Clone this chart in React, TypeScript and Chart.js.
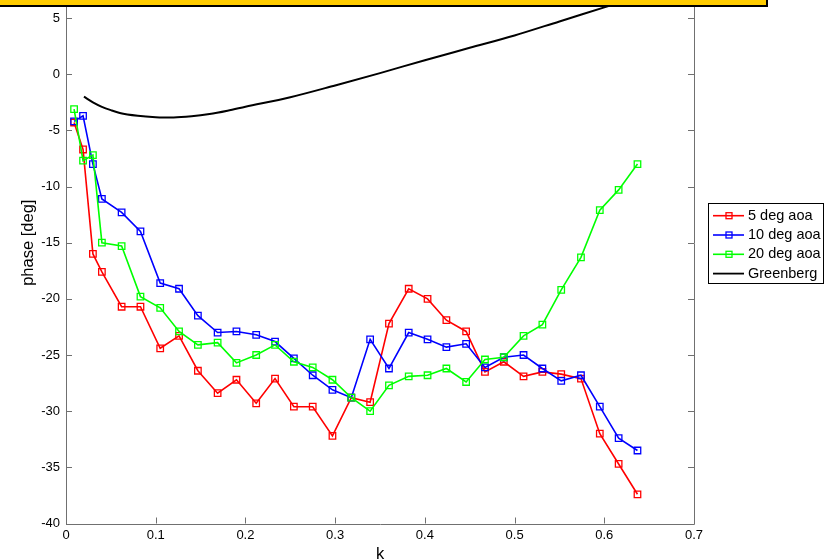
import React, { useEffect, useRef } from "react";
import { Chart, registerables } from "chart.js";

Chart.register(...registerables);

// reduced frequency k for the measured series
const kValues = [
  0.009, 0.019, 0.030, 0.040, 0.062, 0.083, 0.105, 0.126, 0.147, 0.169, 0.190,
  0.212, 0.233, 0.254, 0.275, 0.297, 0.318, 0.339, 0.360, 0.382, 0.403, 0.424,
  0.446, 0.467, 0.488, 0.510, 0.531, 0.552, 0.574, 0.595, 0.616, 0.637,
];

const aoa5 = [
  -4.3, -6.7, -16.0, -17.6, -20.7, -20.7, -24.4, -23.3, -26.4, -28.4, -27.2,
  -29.3, -27.1, -29.6, -29.6, -32.2, -28.8, -29.2, -22.2, -19.1, -20.0, -21.9,
  -22.9, -26.5, -25.6, -26.9, -26.5, -26.7, -27.1, -32.0, -34.7, -37.4,
];

const aoa10 = [
  -4.2, -3.7, -8.0, -11.1, -12.3, -14.0, -18.6, -19.1, -21.5, -23.0, -22.9,
  -23.2, -23.8, -25.3, -26.8, -28.1, -28.8, -23.6, -26.2, -23.0, -23.6, -24.3,
  -24.0, -26.1, -25.2, -25.0, -26.2, -27.3, -26.8, -29.6, -32.4, -33.5,
];

const aoa20 = [
  -3.1, -7.7, -7.2, -15.0, -15.3, -19.8, -20.8, -22.9, -24.1, -23.9, -25.7,
  -25.0, -24.1, -25.6, -26.1, -27.2, -28.8, -30.0, -27.7, -26.9, -26.8, -26.2,
  -27.4, -25.4, -25.2, -23.3, -22.3, -19.2, -16.3, -12.1, -10.3, -8.0,
];

const greenbergK = [
  0.02, 0.03, 0.04, 0.05, 0.06, 0.08, 0.10, 0.12, 0.14, 0.16, 0.18, 0.20, 0.25,
  0.30, 0.35, 0.40, 0.45, 0.50, 0.55, 0.60, 0.65, 0.70,
];
const greenbergPhase = [
  -2.0, -2.5, -2.9, -3.2, -3.45, -3.7, -3.82, -3.85, -3.75, -3.55, -3.25, -2.9,
  -2.05, -1.0, 0.1, 1.25, 2.35, 3.45, 4.7, 5.95, 7.2, 8.4,
];

const legendLabels = ["5 deg aoa", "10 deg aoa", "20 deg aoa", "Greenberg"];
const seriesColors = ["#ff0000", "#0000ff", "#00ff00", "#000000"];
const xLabel = "k";
const yLabel = "phase [deg]";

const CANVAS_W = 826;
const CANVAS_H = 620;
const OFFSET_Y = 44; // canvas is shifted up by this amount
const FONT = "'Liberation Sans', Arial, Helvetica, sans-serif";
const AXIS_COLOR = "#707070";

const matlabAxes = {
  id: "matlabAxes",
  afterDatasetsDraw(chart: any) {
    const { ctx, chartArea, scales } = chart;
    const { left, right, top, bottom } = chartArea;
    const tl = 6;
    ctx.save();
    ctx.strokeStyle = AXIS_COLOR;
    ctx.lineWidth = 1;
    ctx.beginPath();
    ctx.rect(Math.round(left) + 0.5, Math.round(top) + 0.5, Math.round(right - left), Math.round(bottom - top));
    ctx.stroke();
    ctx.beginPath();
    scales.x.ticks.forEach((t: any) => {
      const px = Math.round(scales.x.getPixelForValue(t.value)) + 0.5;
      ctx.moveTo(px, bottom);
      ctx.lineTo(px, bottom - tl);
      ctx.moveTo(px, top);
      ctx.lineTo(px, top + tl);
    });
    scales.y.ticks.forEach((t: any) => {
      const py = Math.round(scales.y.getPixelForValue(t.value)) + 0.5;
      ctx.moveTo(left, py);
      ctx.lineTo(left + tl, py);
      ctx.moveTo(right, py);
      ctx.lineTo(right - tl, py);
    });
    ctx.stroke();
    ctx.restore();
  },
  afterDraw(chart: any) {
    const { ctx } = chart;
    const bx = 708.5;
    const by = 203.5 + OFFSET_Y;
    const bw = 115;
    const bh = 80;
    ctx.save();
    ctx.fillStyle = "#ffffff";
    ctx.fillRect(bx, by, bw, bh);
    ctx.strokeStyle = "#000000";
    ctx.lineWidth = 1;
    ctx.strokeRect(bx, by, bw, bh);
    const rowYs = [215.7, 235, 254.3, 273.6];
    ctx.font = `14.5px ${FONT}`;
    ctx.textBaseline = "middle";
    ctx.textAlign = "left";
    legendLabels.forEach((label, i) => {
      const y = rowYs[i] + OFFSET_Y;
      ctx.strokeStyle = seriesColors[i];
      ctx.lineWidth = i === 3 ? 1.8 : 1.6;
      ctx.beginPath();
      ctx.moveTo(713, y);
      ctx.lineTo(744, y);
      ctx.stroke();
      if (i < 3) {
        ctx.lineWidth = 1.3;
        ctx.strokeRect(729 - 3, y - 3, 6, 6);
      }
      ctx.fillStyle = "#000000";
      ctx.fillText(label, 748, y);
    });
    ctx.restore();
  },
};

export default function App() {
  const ref = useRef<HTMLCanvasElement | null>(null);

  useEffect(() => {
    if (!ref.current) return;
    Chart.defaults.font.family = FONT;
    const mkSeries = (vals: number[]) => kValues.map((k, i) => ({ x: k, y: vals[i] }));
    const markerSeries = (label: string, vals: number[], color: string, order: number) => ({
      label,
      data: mkSeries(vals),
      borderColor: color,
      backgroundColor: color,
      borderWidth: 1.6,
      pointStyle: "rect",
      pointRadius: 4.6,
      pointBorderWidth: 1.3,
      pointBorderColor: color,
      pointBackgroundColor: "rgba(0,0,0,0)",
      tension: 0,
      order,
    });
    const chart = new Chart(ref.current, {
      type: "line",
      data: {
        datasets: [
          markerSeries(legendLabels[0], aoa5, seriesColors[0], 2),
          markerSeries(legendLabels[1], aoa10, seriesColors[1], 1),
          markerSeries(legendLabels[2], aoa20, seriesColors[2], 0),
          {
            label: legendLabels[3],
            data: greenbergK.map((k, i) => ({ x: k, y: greenbergPhase[i] })),
            borderColor: seriesColors[3],
            backgroundColor: seriesColors[3],
            borderWidth: 2,
            pointRadius: 0,
            cubicInterpolationMode: "monotone",
            order: 3,
          } as any,
        ],
      },
      options: {
        responsive: false,
        animation: false,
        devicePixelRatio: 1,
        layout: { padding: { top: 2, right: 132, left: 0, bottom: 0 } },
        plugins: {
          legend: { display: false },
          tooltip: { enabled: false },
        },
        scales: {
          x: {
            type: "linear",
            position: "bottom",
            min: 0,
            max: 0.7,
            grid: { display: false, drawTicks: false },
            border: { display: false },
            ticks: {
              stepSize: 0.1,
              padding: 4,
              color: "#000",
              font: { size: 13 },
              maxRotation: 0,
              autoSkip: false,
              callback: (v: any) => String(Number(Number(v).toFixed(1))),
            },
            title: {
              display: true,
              text: xLabel,
              color: "#000",
              font: { size: 16.5 },
              padding: { top: 0, bottom: 11.8 },
            },
            afterFit: (s: any) => {
              s.height = 52.5;
              s.paddingLeft = 0;
              s.paddingRight = 0;
            },
          },
          y: {
            type: "linear",
            position: "left",
            min: -40,
            max: 10,
            grid: { display: false, drawTicks: false },
            border: { display: false },
            ticks: {
              stepSize: 5,
              padding: 6,
              color: "#000",
              font: { size: 13 },
            },
            title: {
              display: true,
              text: yLabel,
              color: "#000",
              font: { size: 16.5 },
              padding: { top: 18.4, bottom: 0 },
            },
            afterFit: (s: any) => {
              s.width = 66;
              s.paddingTop = 0;
              s.paddingBottom = 0;
            },
          },
        },
      } as any,
      plugins: [matlabAxes],
    });
    return () => chart.destroy();
  }, []);

  return (
    <div
      style={{
        position: "fixed",
        left: 0,
        top: 0,
        width: CANVAS_W,
        height: 559,
        overflow: "hidden",
        background: "#ffffff",
      }}
    >
      <canvas
        ref={ref}
        width={CANVAS_W}
        height={CANVAS_H}
        style={{ position: "absolute", left: 0, top: -OFFSET_Y, width: CANVAS_W, height: CANVAS_H }}
      />
      <div
        style={{
          position: "absolute",
          left: -5,
          top: -20,
          width: 773,
          height: 27,
          boxSizing: "border-box",
          background: "#FFCC00",
          border: "2px solid #000000",
        }}
      />
    </div>
  );
}
